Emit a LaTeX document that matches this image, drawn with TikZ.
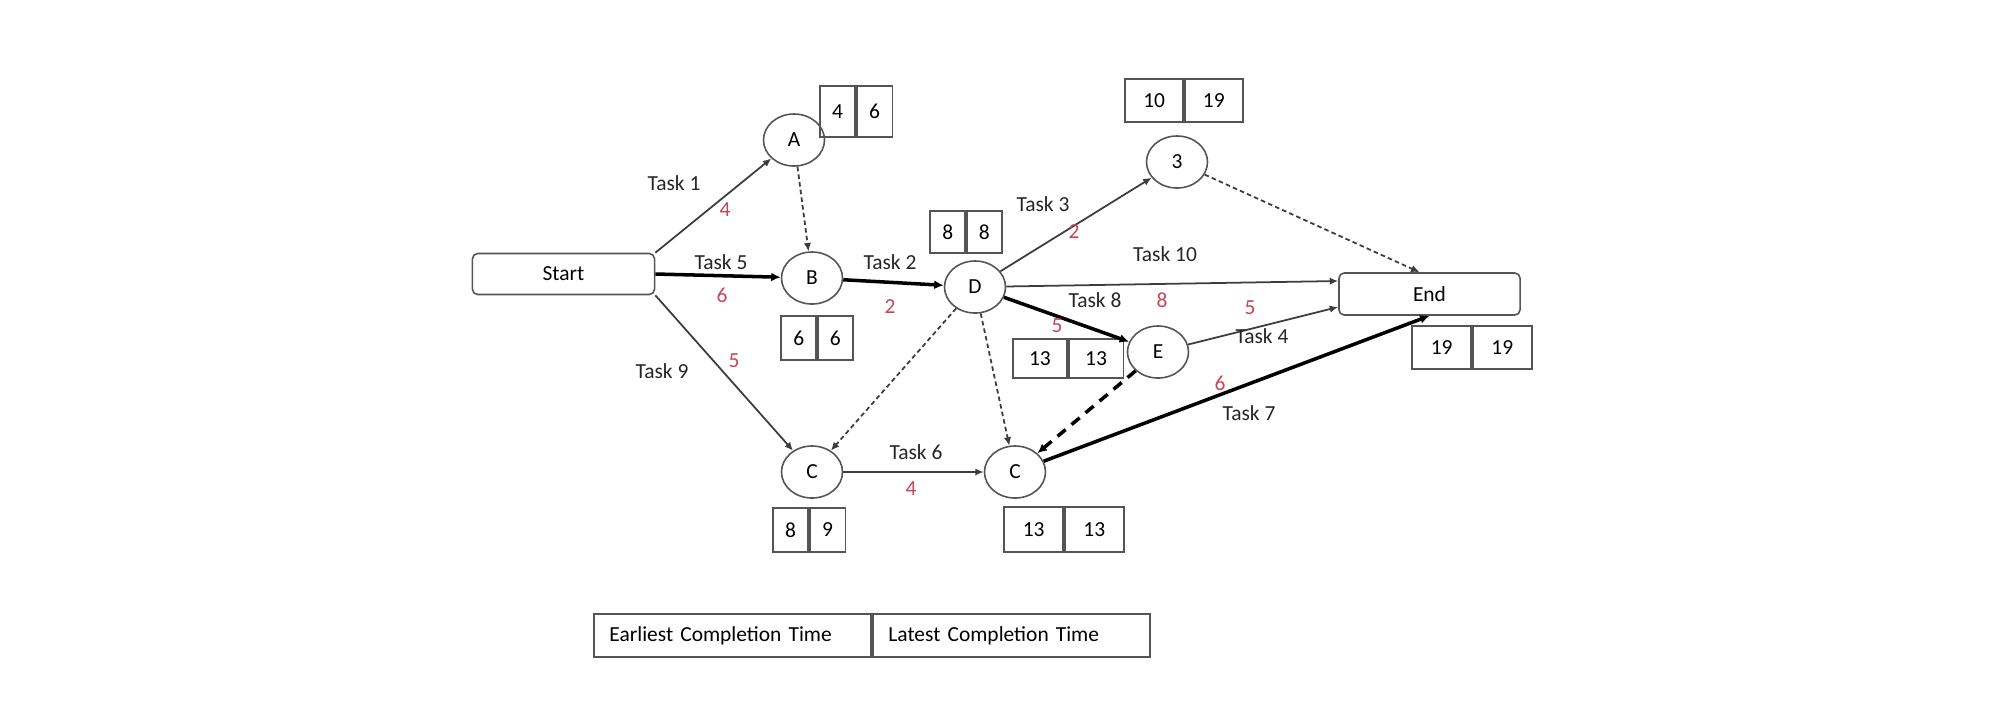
\documentclass[tikz,border=0pt]{standalone}
\usepackage{fontspec}
\setmainfont{Carlito}
\usetikzlibrary{calc,arrows.meta,shapes.geometric}
\definecolor{numred}{RGB}{200,70,85}
\definecolor{linegray}{RGB}{60,60,60}
\definecolor{boxgray}{RGB}{85,85,85}
\newcommand\pairbox[7]{%
  \node[cell, minimum width=#4*0.01cm, minimum height=#5*0.01cm, anchor=east] (#1l) at (#2,#3) {#6};
  \node[cell, minimum width=#4*0.01cm, minimum height=#5*0.01cm, anchor=west] (#1r) at (#2,#3) {#7};}
\begin{document}
\begin{tikzpicture}[x=0.01cm,y=-0.01cm,
  font=\fontsize{6.1}{7.2}\selectfont,
  evt/.style={draw=boxgray, ellipse, minimum width=0.61cm, minimum height=0.52cm, inner sep=0, line width=0.45pt},
  termbox/.style={draw=boxgray, rounded corners=1.5pt, inner sep=0, line width=0.45pt},
  cell/.style={draw=boxgray, inner sep=0, line width=0.45pt},
  legcell/.style={draw=boxgray, inner ysep=0, inner xsep=0.156cm, text width=2.46cm, minimum height=0.43cm, align=left, line width=0.45pt},
  task/.style={inner sep=0, text=black!85},
  dur/.style={inner sep=0, text=numred},
  thinarrow/.style={draw=linegray, line width=0.5pt, -{Latex[length=2.4pt,width=2.1pt]}},
  thickarrow/.style={draw=black, line width=1pt, -{Latex[length=2.7pt,width=2.5pt]}},
  dumarrow/.style={thinarrow, dash pattern=on 1.3pt off 0.9pt},
  dumthick/.style={thickarrow, dash pattern=on 3pt off 2.2pt},
]
\useasboundingbox (0,0) rectangle (2000,714);
\fill[white] (0,0) rectangle (2000,714);

% event nodes
\node[termbox, minimum width=1.82cm, minimum height=0.41cm] (start) at (563.5,274) {Start};
\node[termbox, minimum width=1.81cm, minimum height=0.42cm] (endn) at (1429.5,294) {End};
\node[evt] (A) at (794,140) {A};
\node[evt] (B) at (812,278) {B};
\node[evt] (D) at (975,287) {D};
\node[evt] (three) at (1177,162) {3};
\node[evt] (E) at (1158,352) {E};
\node[evt] (C1) at (812,472) {C};
\node[evt] (C2) at (1015,472) {C};

% time boxes
\pairbox{ta}{856}{111.5}{35.5}{51}{4}{6}
\pairbox{tb}{817}{338}{35}{44}{6}{6}
\pairbox{td}{966}{232}{35}{42}{8}{8}
\pairbox{tt}{1184}{100.5}{58}{43}{10}{19}
\pairbox{te}{1068}{358.5}{54.5}{39}{13}{13}
\pairbox{tc2}{1064}{529.5}{59}{45}{13}{13}
\pairbox{tend}{1472}{347.5}{59}{43}{19}{19}
\pairbox{tc1}{809}{530}{35.5}{44}{8}{9}

% legend
\node[legcell, anchor=east] (legl) at (872,635.5) {Earliest Completion Time};
\node[legcell, anchor=west] (legr) at (872,635.5) {Latest Completion Time};

% connectors
\draw[thinarrow] (start.north east) -- (A);
\draw[thickarrow] (start.east) -- (B);
\draw[thinarrow] (start.south east) -- (C1);
\draw[dumarrow] (A) -- (B);
\draw[thickarrow] (B) -- (D);
\draw[thinarrow] (D) -- (three);
\draw[thinarrow] (D) -- ($(endn.west)+(0,-13)$);
\draw[thickarrow] (D) -- (E);
\draw[thinarrow] (E) -- ($(endn.west)+(0,13)$);
\draw[dumarrow] (three) -- ($(endn.north)+(-10,0)$);
\draw[dumarrow] (D) -- (C1);
\draw[dumarrow] (D) -- (C2);
\draw[dumthick] (E) -- (C2);
\draw[thinarrow] (C1) -- (C2);
\draw[thickarrow] (C2) -- (endn.south);

% labels
\node[task] (l1) at (674,183) {Task 1};
\node[dur]  (d1) at (725,210) {4};
\node[task] (l5) at (721,262) {Task 5};
\node[dur]  (d5) at (722,295) {6};
\node[task] (l2) at (890,262) {Task 2};
\node[dur]  (d2) at (890,307) {2};
\node[task] (l9) at (662,371) {Task 9};
\node[dur]  (d9) at (734,361) {5};
\node[task] (l6) at (916,452) {Task 6};
\node[dur]  (d6) at (911,489) {4};
\node[task] (l3) at (1043,204) {Task 3};
\node[dur]  (d3) at (1074,232) {2};
\node[task] (l10) at (1165,254) {Task 10};
\node[dur]  (d10) at (1162,300) {8};
\node[task] (l8) at (1095,300) {Task 8};
\node[dur]  (d8) at (1057,326) {5};
\node[dur]  (d4) at (1250,308) {5};
\node[task] (l4) at (1262,336) {Task 4};
\node[dur]  (d7) at (1220,383) {6};
\node[task] (l7) at (1249,413) {Task 7};
\end{tikzpicture}
\end{document}
